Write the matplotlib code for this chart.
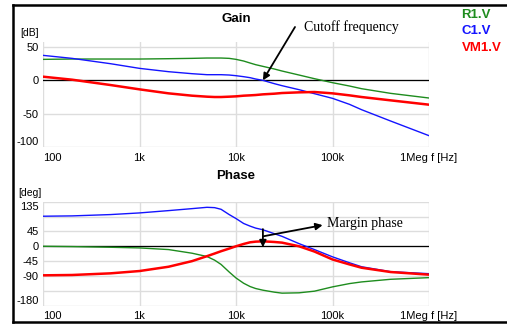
import matplotlib.pyplot as plt
from matplotlib.lines import Line2D

# frequency points [Hz]
freq = [100, 200, 500, 1e3, 2e3, 3.5e3, 5e3, 6e3, 7e3, 8.5e3, 1e4, 1.2e4,
        1.4e4, 1.6e4, 1.9e4, 2.5e4, 3e4, 4.5e4, 6.5e4, 1e5, 1.5e5, 2e5,
        4e5, 1e6]

# gain [dB]
gain_r1 = [31.5, 32, 32, 32, 32.5, 33, 33.5, 33.5, 33.5, 33, 31.5, 29,
           26, 23.5, 21, 17, 14, 8, 2.5, -3.5, -8.5, -12.5,
           -19.5, -26.5]
gain_c1 = [37.5, 33, 25, 18, 13, 10, 8.5, 8.5, 8.5, 8, 7, 5.5,
           4, 2, 0, -5, -8, -14, -20, -27, -36, -44,
           -61, -83]
gain_vm1 = [5.5, 1, -7, -13.5, -19.5, -23, -24.5, -25, -25, -24.5, -24, -23,
            -22.5, -22, -21, -20, -19, -18, -17.5, -19.5, -22.5, -25,
            -30, -36.5]

# phase [deg]
phase_r1 = [0, -1, -3, -5, -10, -21, -31, -42, -55, -78, -96, -112,
            -122, -128, -133, -139, -142, -141, -136, -123, -113, -108,
            -100, -95]
phase_c1 = [91, 92, 96, 101, 108, 114, 118, 117, 112, 96, 84, 69,
            61, 55, 50, 38, 30, 8, -10, -32, -50, -62,
            -77, -83]
phase_vm1 = [-88, -87, -82, -75, -62, -45, -30, -22, -15, -7, 0, 7,
             12, 14, 15, 13, 11, 0, -16, -40, -55, -65,
             -78, -86]

xticks = [100, 1e3, 1e4, 1e5, 1e6]
xlabels = ['100', '1k', '10k', '100k', '1Meg f [Hz]']
gain_ticks = [50, 0, -50, -100]
phase_ticks = [135, 45, 0, -45, -90, -180]
phase_grid = [135, 90, 45, 0, -45, -90, -135, -180]

green = '#1e8c1e'
blue = '#1414ff'
red = '#ff0000'

plt.rcParams['font.family'] = ['Liberation Sans', 'DejaVu Sans']
plt.rcParams['axes.unicode_minus'] = False

W, H = 507, 324
fig = plt.figure(figsize=(W / 100, H / 100), dpi=100)


def fx(x):
    return x / W


def fy(y):
    return 1 - y / H


ax1 = fig.add_axes([fx(43), fy(147), fx(386), 105.3 / H])
ax2 = fig.add_axes([fx(43), fy(305.7), fx(386), 104 / H])

for ax in (ax1, ax2):
    ax.set_xscale('log')
    ax.set_xlim(100, 1e6)
    for s in ax.spines.values():
        s.set_visible(False)
    ax.tick_params(length=0, labelsize=8, pad=3)
    ax.tick_params(axis='x', pad=4)
    ax.set_xticks(xticks)
    ax.set_xticklabels(xlabels)
    ax.xaxis.set_minor_locator(plt.NullLocator())
    ax.grid(True, color='#dddddd', lw=1)
    ax.axhline(0, color='black', lw=0.9, zorder=2)
    ax.get_xticklabels()[0].set_ha('left')

# gain
ax1.plot(freq, gain_r1, color=green, lw=1.0, zorder=3)
ax1.plot(freq, gain_c1, color=blue, lw=1.0, zorder=3)
ax1.plot(freq, gain_vm1, color=red, lw=1.8, zorder=3)
ax1.set_ylim(-100, 58)
ax1.set_yticks(gain_ticks)
ax1.get_yticklabels()[-1].set_va('bottom')

# phase
ax2.plot(freq, phase_r1, color=green, lw=1.0, zorder=3)
ax2.plot(freq, phase_c1, color=blue, lw=1.0, zorder=3)
ax2.plot(freq, phase_vm1, color=red, lw=1.8, zorder=3)
ax2.set_ylim(-180, 135)
ax2.set_yticks(phase_grid)
ax2.set_yticklabels([str(v) if v in phase_ticks else '' for v in phase_grid])
ax2.get_yticklabels()[0].set_va('top')
ax2.get_yticklabels()[-1].set_va('bottom')

fig.text(fx(236), fy(19), 'Gain', ha='center', va='center',
         fontsize=9.5, fontweight='bold')
fig.text(fx(236), fy(176), 'Phase', ha='center', va='center',
         fontsize=9.5, fontweight='bold')
fig.text(fx(20), fy(33), '[dB]', ha='left', va='center', fontsize=7.5)
fig.text(fx(18), fy(192.5), '[deg]', ha='left', va='center', fontsize=7.5)

# legend texts
for i, (name, c) in enumerate([('R1.V', green), ('C1.V', blue), ('VM1.V', red)]):
    fig.text(fx(461.5), fy(15 + 16.3 * i), name, color=c, ha='left', va='center',
             fontsize=9.5, fontweight='bold')

# annotations
serif = ['Liberation Serif', 'DejaVu Serif']
fig.text(fx(304), fy(27), 'Cutoff frequency', family=serif, fontsize=10,
         ha='left', va='center')
arrow = dict(arrowstyle='-|>', color='black', lw=1.3, mutation_scale=10,
             shrinkA=0, shrinkB=0)
ax1.annotate('', xy=(1.9e4, 0), xycoords='data',
             xytext=(295, H - 27), textcoords='figure pixels',
             arrowprops=arrow, annotation_clip=False)

fig.text(fx(327), fy(223), 'Margin phase', family=serif, fontsize=10,
         ha='left', va='center')
ax2.annotate('', xy=(7.9e4, 64), xytext=(1.9e4, 30), arrowprops=arrow)
ax2.annotate('', xy=(1.9e4, -3), xytext=(1.9e4, 52), arrowprops=arrow)

# outer frame (right side cut off)
fig.add_artist(Line2D([fx(12.5), fx(12.5)], [fy(5), fy(322)], color='black', lw=1.8))
fig.add_artist(Line2D([fx(12.5), 1], [fy(5), fy(5)], color='black', lw=1.8))
fig.add_artist(Line2D([fx(12.5), 1], [fy(322), fy(322)], color='black', lw=1.8))

fig.savefig('out.png', dpi=100)
